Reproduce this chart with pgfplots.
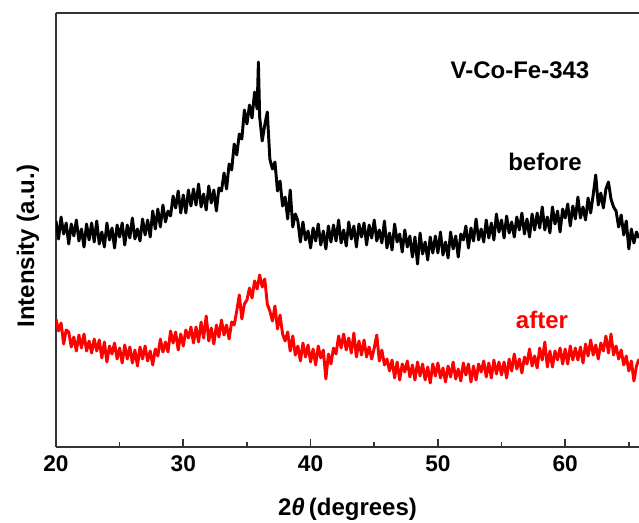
\documentclass[border=0pt]{standalone}
\usepackage{fontspec}
\setmainfont{Liberation Sans}
\usepackage{pgfplots}
\pgfplotsset{compat=1.18}
\usepackage{pgfplotstable}

\pgfplotstableread{
x y
20.0 226
20.2 208
20.4 230
20.6 213
20.8 224
21.0 203
21.2 223
21.4 211
21.6 227
21.8 206
22.0 218
22.2 200
22.4 223
22.6 207
22.8 224
23.0 205
23.2 226
23.4 203
23.6 215
23.8 200
24.0 224
24.2 207
24.4 219
24.6 199
24.8 222
25.0 210
25.2 224
25.4 202
25.6 222
25.8 209
26.0 229
26.2 208
26.4 218
26.6 206
26.8 228
27.0 212
27.2 227
27.4 210
27.6 236
27.8 218
28.0 238
28.2 220
28.4 242
28.6 225
28.8 236
29.0 231
29.2 251
29.4 239
29.6 256
29.8 234
30.0 252
30.2 234
30.4 257
30.6 241
30.8 258
31.0 242
31.2 263
31.4 240
31.6 253
31.8 237
32.0 261
32.2 244
32.4 257
32.6 236
32.8 259
33.0 256
33.2 274
33.4 258
33.6 283
33.8 277
34.0 303
34.2 292
34.4 313
34.6 308
34.8 337
35.0 323
35.2 342
35.4 329
35.6 355
35.8 338
35.9 385
36.0 330
36.2 306
36.4 322
36.6 335
36.8 288
37.0 278
37.2 285
37.4 256
37.6 266
37.8 241
38.0 250
38.2 228
38.4 257
38.6 220
38.8 233
39.0 226
39.2 205
39.4 225
39.6 207
39.8 216
40.0 199
40.2 219
40.4 206
40.6 223
40.8 202
41.0 216
41.2 198
41.4 221
41.6 205
41.8 222
42.0 206
42.2 227
42.4 204
42.6 217
42.8 201
43.0 225
43.2 208
43.4 221
43.6 200
43.8 223
44.0 210
44.2 224
44.4 202
44.6 222
44.8 209
45.0 227
45.2 206
45.4 217
45.6 204
45.8 226
46.0 199
46.2 214
46.4 197
46.6 223
46.8 205
47.0 213
47.2 195
47.4 217
47.6 200
47.8 211
48.0 190
48.2 210
48.4 183
48.6 214
48.8 193
49.0 205
49.2 187
49.4 210
49.6 194
49.8 211
50.0 194
50.2 215
50.4 192
50.6 205
50.8 189
51.0 215
51.2 198
51.4 211
51.6 190
51.8 213
52.0 207
52.2 221
52.4 199
52.6 219
52.8 206
53.0 228
53.2 207
53.4 218
53.6 205
53.8 227
54.0 209
54.2 224
54.4 207
54.6 233
54.8 215
55.0 227
55.2 209
55.4 231
55.6 214
55.8 225
56.0 210
56.2 230
56.4 217
56.6 234
56.8 213
57.0 228
57.2 210
57.4 233
57.6 217
57.8 234
58.0 219
58.2 240
58.4 217
58.6 230
58.8 214
59.0 240
59.2 223
59.4 236
59.6 215
59.8 238
60.0 229
60.2 243
60.4 221
60.6 241
60.8 228
61.0 250
61.2 229
61.4 240
61.6 227
61.8 249
62.0 234
62.2 252
62.4 272
62.6 242
62.8 254
63.0 239
63.2 258
63.4 265
63.6 248
63.8 240
64.0 236
64.2 220
64.4 232
64.6 212
64.8 226
65.0 198
65.2 218
65.4 204
65.6 215
65.8 209
}\before

\pgfplotstableread{
x y
20.0 128
20.2 116
20.4 124
20.6 103
20.8 117
21.0 115
21.2 100
21.4 110
21.6 96
21.8 112
22.0 99
22.2 113
22.4 96
22.6 106
22.8 94
23.0 108
23.2 96
23.4 107
23.6 89
23.8 105
24.0 85
24.2 101
24.4 93
24.6 104
24.8 88
25.0 99
25.2 84
25.4 102
25.6 88
25.8 100
26.0 84
26.2 97
26.4 81
26.6 100
26.8 88
27.0 101
27.2 86
27.4 96
27.6 82
27.8 98
28.0 91
28.2 108
28.4 95
28.6 105
28.8 95
29.0 116
29.2 104
29.4 115
29.6 97
29.8 113
30.0 101
30.2 117
30.4 109
30.6 120
30.8 104
31.0 120
31.2 105
31.4 125
31.6 109
31.8 131
32.0 106
32.2 119
32.4 103
32.6 122
32.8 110
33.0 127
33.2 112
33.4 122
33.6 108
33.8 125
34.0 122
34.2 136
34.4 152
34.6 128
34.8 143
35.0 147
35.2 159
35.4 149
35.6 166
35.8 158
36.0 172
36.2 160
36.4 168
36.6 143
36.8 136
37.0 126
37.2 141
37.4 118
37.6 132
37.8 113
38.0 106
38.2 115
38.4 96
38.6 111
38.8 92
39.0 101
39.2 86
39.4 104
39.6 90
39.8 102
40.0 85
40.2 98
40.4 82
40.6 101
40.8 89
41.0 97
41.2 68
41.4 93
41.6 83
41.8 99
42.0 93
42.2 111
42.4 99
42.6 113
42.8 97
43.0 109
43.2 94
43.4 114
43.6 90
43.8 106
44.0 92
44.2 107
44.4 90
44.6 100
44.8 88
45.0 99
45.2 112
45.4 86
45.6 97
45.8 82
46.0 88
46.2 76
46.4 87
46.6 69
46.8 85
47.0 67
47.2 83
47.4 75
47.6 86
47.8 70
48.0 82
48.2 67
48.4 85
48.6 71
48.8 83
49.0 67
49.2 80
49.4 64
49.6 83
49.8 71
50.0 84
50.2 69
50.4 79
50.6 65
50.8 81
51.0 70
51.2 85
51.4 68
51.6 78
51.8 66
52.0 84
52.2 72
52.4 83
52.6 65
52.8 81
53.0 67
53.2 83
53.4 75
53.6 86
53.8 70
54.0 84
54.2 69
54.4 87
54.6 73
54.8 85
55.0 72
55.2 85
55.4 69
55.6 88
55.8 76
56.0 93
56.2 78
56.4 88
56.6 74
56.8 90
57.0 83
57.2 98
57.4 81
57.6 91
57.8 79
58.0 99
58.2 87
58.4 105
58.6 80
58.8 96
59.0 80
59.2 96
59.4 87
59.6 99
59.8 83
60.0 98
60.2 83
60.4 101
60.6 87
60.8 99
61.0 87
61.2 100
61.4 84
61.6 103
61.8 91
62.0 107
62.2 92
62.4 102
62.6 88
62.8 104
63.0 96
63.2 111
63.4 94
63.6 113
63.8 92
64.0 101
64.2 88
64.4 97
64.6 82
64.8 91
65.0 76
65.2 86
65.4 66
65.6 81
65.8 88
}\after

\begin{document}
\begin{tikzpicture}
\begin{axis}[
  scale only axis,
  width=437.25pt, height=325.5pt,
  xmin=20, xmax=65.8, ymin=0, ymax=434,
  axis y line*=left,
  ytick=\empty,
  xtick={20,30,40,50,60},
  minor xtick={25,35,45,55,65},
  xtick pos=left,
  tick align=inside,
  major tick length=6pt,
  minor tick length=3.5pt,
  axis line style={line width=1.2pt, draw=black!80},
  every tick/.style={line width=1.2pt, draw=black!80},
  /pgf/number format/assume math mode=true,
  xticklabel style={font=\fontsize{17}{20}\selectfont\bfseries, yshift=-3pt},
  xlabel={2\textit{θ}\,(degrees)},
  xlabel style={font=\fontsize{18}{21}\selectfont\bfseries, at={(axis description cs:0.5,-0.143)}, anchor=center},
  ylabel={Intensity (a.u.)},
  ylabel style={font=\fontsize{18}{21}\selectfont\bfseries, at={(axis description cs:-0.048,0.463)}, anchor=center},
]
\addplot[black, line width=2.2pt, line join=round] table[x=x,y=y] {\before};
\addplot[red, line width=2.2pt, line join=round] table[x=x,y=y] {\after};
\node[font=\fontsize{18}{21}\selectfont\bfseries, anchor=center] at (axis cs:56.45,377) {V-Co-Fe-343};
\node[font=\fontsize{18}{21}\selectfont\bfseries, anchor=center] at (axis cs:58.41,285) {before};
\node[font=\fontsize{18}{21}\selectfont\bfseries, text=red, anchor=center] at (axis cs:58.18,127) {after};
\end{axis}
\pgfresetboundingbox
\path ([shift={(-42pt,-56.25pt)}]current axis.south west) rectangle ([shift={(0pt,9.75pt)}]current axis.north east);
\end{tikzpicture}
\end{document}
